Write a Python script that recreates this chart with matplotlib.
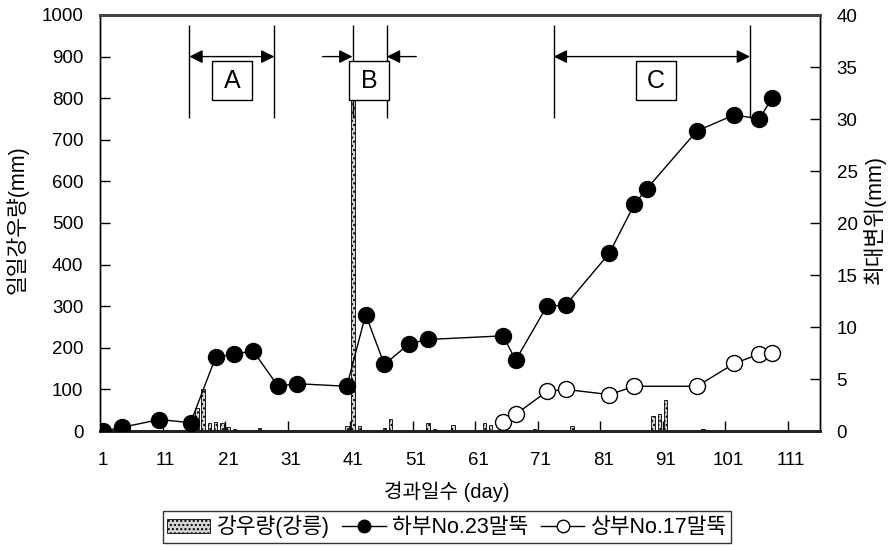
import matplotlib
matplotlib.use("Agg")
import matplotlib.pyplot as plt
from matplotlib.patches import Rectangle
from matplotlib.lines import Line2D

plt.rcParams['font.family'] = ['Liberation Sans', 'Noto Sans CJK KR']

# daily rainfall (Gangneung), mm
rain_day = [16, 17, 18, 19, 20, 21, 22, 24, 26, 27, 33, 37, 40, 41, 42, 46, 47,
            53, 54, 57, 62, 63, 70, 76, 89, 90, 91, 92, 97]
rain_mm = [55, 100, 19, 22, 19, 9, 6, 3, 8, 3, 2, 2, 13, 870, 13, 8, 29,
           19, 6, 15, 19, 15, 6, 12, 35, 42, 75, 2, 6]

# max displacement, lower pile No.23
low_day = [1, 4, 10, 15, 19, 22, 25, 29, 32, 40, 43, 46, 50, 53, 65, 67, 72, 75,
           82, 86, 88, 96, 102, 106, 108]
low_mm = [0, 0.35, 1.1, 0.8, 7.1, 7.4, 7.7, 4.3, 4.55, 4.3, 11.2, 6.4, 8.4, 8.8,
          9.15, 6.8, 12.0, 12.1, 17.1, 21.8, 23.3, 28.85, 30.4, 30.0, 32.0]

# max displacement, upper pile No.17
up_day = [65, 67, 72, 75, 82, 86, 96, 102, 106, 108]
up_mm = [0.9, 1.6, 3.8, 4.0, 3.5, 4.3, 4.3, 6.5, 7.4, 7.5]

x_labels = [1, 11, 21, 31, 41, 51, 61, 71, 81, 91, 101, 111]

# periods A, B, C
period_names = ['A', 'B', 'C']
period_start = [14.8, 40.9, 73.1]
period_end = [28.4, 46.4, 104.5]
label_center = [21.6, 43.6, 89.5]

fig = plt.figure(figsize=(8.89, 5.46), dpi=100)
ax = fig.add_axes([100/889, 1 - 431/546, 720/889, 416/546])
ax2 = ax.twinx()

bars = ax.bar(rain_day, rain_mm, width=0.55, color='#d4d4d4', edgecolor='black',
              linewidth=0.6, hatch='....', zorder=2)
l1, = ax2.plot(low_day, low_mm, color='black', lw=1.0, marker='o', ms=11.5,
               mfc='black', mec='black', zorder=3)
l2, = ax2.plot(up_day, up_mm, color='black', lw=1.0, marker='o', ms=11.5,
               mfc='white', mec='black', mew=1.0, zorder=3)

ax.set_xlim(0.5, 115.7)
ax.set_ylim(0, 1000)
ax2.set_ylim(0, 40)
ax.set_yticks(range(0, 1001, 100))
ax2.set_yticks(range(0, 41, 5))
ax.set_xticks(x_labels)
ax.set_xticks([t + 9.5 for t in x_labels[:-1]], minor=True)
ax.tick_params(axis='x', which='major', length=0, pad=15, labelsize=13.5)
ax.tick_params(axis='x', which='minor', direction='in', length=7, width=1)
ax.tick_params(axis='y', direction='in', length=7, width=1, pad=12, labelsize=13.5)
ax2.tick_params(axis='y', direction='in', length=7, width=1, pad=12, labelsize=13.5)

for a in (ax, ax2):
    for s in a.spines.values():
        s.set_linewidth(1.0)
        s.set_color('black')
    a.spines['top'].set_linewidth(2)
    a.spines['top'].set_color('#444444')
    a.spines['bottom'].set_linewidth(2)
    a.spines['bottom'].set_color('#222222')

# period annotations
for name, x0, x1, xc in zip(period_names, period_start, period_end, label_center):
    ax.vlines([x0, x1], 752, 976, color='black', lw=1.0, zorder=5)
    if name == 'B':
        ax.annotate('', xy=(x0, 900), xytext=(x0 - 4.8, 900),
                    arrowprops=dict(arrowstyle='-|>', color='black', lw=1.0,
                                    mutation_scale=20, shrinkA=0, shrinkB=0), zorder=5)
        ax.annotate('', xy=(x1, 900), xytext=(x1 + 4.7, 900),
                    arrowprops=dict(arrowstyle='-|>', color='black', lw=1.0,
                                    mutation_scale=20, shrinkA=0, shrinkB=0), zorder=5)
    else:
        ax.annotate('', xy=(x1, 900), xytext=(x0, 900),
                    arrowprops=dict(arrowstyle='<|-|>', color='black', lw=1.0,
                                    mutation_scale=20, shrinkA=0, shrinkB=0), zorder=5)
    ax.add_patch(Rectangle((xc - 3.2, 796), 6.4, 93, facecolor='white',
                           edgecolor='black', lw=1.0, zorder=6))
    ax.text(xc, 842, name, ha='center', va='center', fontsize=18, zorder=7)

fig.text(17/889, 1 - 220/546, '일일강우량(mm)', rotation=90, ha='center', va='center', fontsize=15.5)
fig.text(874/889, 1 - 219/546, '최대변위(mm)', rotation=90, ha='center', va='center', fontsize=15.5)
fig.text(447/889, 1 - 492/546, '경과일수 (day)', ha='center', va='center', fontsize=14.5)

h_low = Line2D([], [], color='black', lw=1.0, marker='o', ms=9, mfc='black', mec='black')
h_up = Line2D([], [], color='black', lw=1.0, marker='o', ms=9, mfc='white', mec='black')
leg = fig.legend([bars, h_low, h_up], ['강우량(강릉)', '하부No.23말뚝', '상부No.17말뚝'],
                 loc='center', bbox_to_anchor=(447/889, 1 - 527/546), ncol=3,
                 frameon=True, fancybox=False, edgecolor='black', fontsize=15.5,
                 handlelength=2.0, handleheight=0.6, handletextpad=0.3,
                 columnspacing=0.6, borderpad=0.2, borderaxespad=0)
leg.get_frame().set_linewidth(1.0)

fig.savefig('out.png', dpi=100)
